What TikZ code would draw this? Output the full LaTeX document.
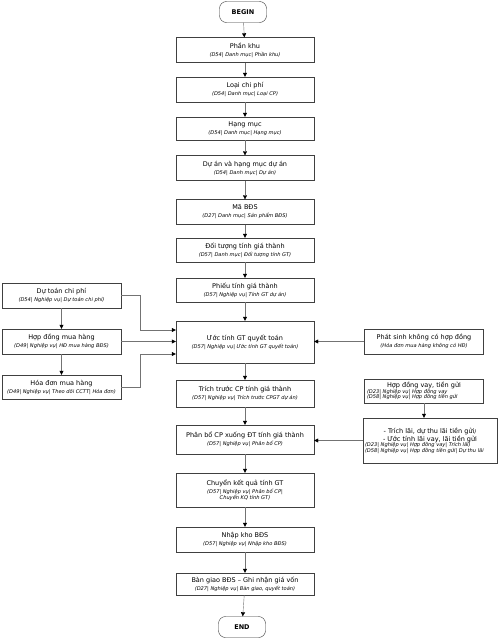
\documentclass[tikz,border=0pt]{standalone}
\usepackage{fontspec}
\setmainfont{DejaVu Sans}
\usetikzlibrary{arrows.meta}
\newcommand{\subt}[1]{{\fontsize{5.1}{6}\selectfont\itshape #1}}

\begin{document}
\begin{tikzpicture}[x=1pt,y=-1pt,
   box/.style={draw=black!75,fill=white,align=center,inner sep=1pt,
      minimum width=138pt,minimum height=25pt,font=\fontsize{6.5}{8}\selectfont},
   sidebox/.style={box,minimum width=119pt},
   term/.style={draw=black!80,rounded corners=7pt,minimum width=47pt,minimum height=21pt,
      font=\fontsize{6.5}{8}\selectfont\bfseries},
   arr/.style={draw=black!55,-{Triangle[color=black,length=4pt,width=4pt]}}]
   \useasboundingbox (0,0) rectangle (498,640);
   % main column
   \node[term] (begin) at (243,12) {BEGIN};
   \node[box] (pk) at (245,50) {Phần khu\\\subt{(D54| Danh mục| Phần khu)}};
   \node[box] (lcp) at (245,89.5) {Loại chi phí\\\subt{(D54| Danh mục| Loại CP)}};
   \node[box,minimum height=23pt] (hm) at (245,128.5) {Hạng mục\\\subt{(D54| Danh mục| Hạng mục)}};
   \node[box] (da) at (245,168) {Dự án và hạng mục dự án\\\subt{(D54| Danh mục| Dự án)}};
   \node[box] (mb) at (245,212) {Mã BĐS\\\subt{(D27| Danh mục| Sản phẩm BĐS)}};
   \node[box,minimum height=24pt] (dt) at (245,250) {Đối tượng tính giá thành\\\subt{(D57| Danh mục| Đối tượng tính GT)}};
   \node[box,minimum height=24pt] (ptg) at (245,290) {Phiếu tính giá thành\\\subt{(D57| Nghiệp vụ| Tính GT dự án)}};
   \node[box,minimum height=42pt] (ut) at (245,342) {Ước tính GT quyết toán\\\subt{(D57| Nghiệp vụ| Ước tính GT quyết toán)}};
   \node[box,minimum height=27pt] (tt) at (245,393.5) {Trích trước CP tính giá thành\\\subt{(D57| Nghiệp vụ| Trích trước CPGT dự án)}};
   \node[box,minimum height=29pt] (pb) at (245,439.5) {Phân bổ CP xuống ĐT tính giá thành\\\subt{(D57| Nghiệp vụ| Phân bổ CP)}};
   \node[box,minimum height=34pt] (ck) at (245,490) {Chuyển kết quả tính GT\\\subt{(D57| Nghiệp vụ| Phân bổ CP|}\\[-2pt]\subt{Chuyển KQ tính GT)}};
   \node[box] (nk) at (245,539.5) {Nhập kho BĐS\\\subt{(D57| Nghiệp vụ| Nhập kho BĐS)}};
   \node[box,minimum height=22pt] (bg) at (245,584) {Bàn giao BĐS – Ghi nhận giá vốn\\\subt{(D27| Nghiệp vụ| Bàn giao, quyết toán)}};
   \node[term] (end) at (242,627) {END};
   % left column
   \node[sidebox] (dtcp) at (61.5,295.5) {Dự toán chi phí\\\subt{(D54| Nghiệp vụ| Dự toán chi phí)}};
   \node[sidebox] (hdmh) at (61.5,341.5) {Hợp đồng mua hàng\\\subt{(D49| Nghiệp vụ| HĐ mua hàng BĐS)}};
   \node[sidebox,minimum height=24pt] (hodm) at (61.5,387) {Hóa đơn mua hàng\\\subt{(D49| Nghiệp vụ| Theo dõi CCTT| Hóa đơn)}};
   % right column
   \node[sidebox] (ps) at (424,341.5) {Phát sinh không có hợp đồng\\\subt{(Hóa đơn mua hàng không có HĐ)}};
   \node[sidebox,minimum height=24pt] (hdv) at (424,391) {Hợp đồng vay, tiền gửi\\[-1pt]
      \parbox{114pt}{\raggedright\subt{(D23| Nghiệp vụ| Hợp đồng vay}\\[-2.5pt]\subt{(D58| Nghiệp vụ| Hợp đồng tiền gửi}}};
   \node[sidebox,minimum width=134pt,minimum height=45pt] (tl) at (430,440.5) {- Trích lãi, dự thu lãi tiền gửi\subt{)}\\
      - Ước tính lãi vay, lãi tiền gửi\\[-1pt]
      \parbox{130pt}{\raggedright\subt{(D23| Nghiệp vụ| Hợp đồng vay| Trích lãi)}\\[-2.5pt]\subt{(D58| Nghiệp vụ| Hợp đồng tiền gửi| Dự thu lãi}}};
   % connectors
   \draw[arr] (begin) -- (pk);
   \draw[arr] (pk) -- (lcp);
   \draw[arr] (lcp) -- (hm);
   \draw[arr] (hm) -- (da);
   \draw[arr] (da) -- (mb);
   \draw[arr] (mb) -- (dt);
   \draw[arr] (dt) -- (ptg);
   \draw[arr] (ptg) -- (ut);
   \draw[arr] (ut) -- (tt);
   \draw[arr] (tt) -- (pb);
   \draw[arr] (pb) -- (ck);
   \draw[arr] (ck) -- (nk);
   \draw[arr] (nk) -- (bg);
   \draw[arr] (bg) -- (end);
   \draw[arr] (dtcp) -- (hdmh);
   \draw[arr] (hdmh) -- (hodm);
   \draw[arr] (dtcp.east) -- ++(19,0) |- ([yshift=12pt]ut.west);
   \draw[arr] (hdmh.east) -- (hdmh.east -| ut.west);
   \draw[arr] (hodm.east) -- ++(19,0) |- ([yshift=-12pt]ut.west);
   \draw[arr] (ps.west) -- (ps.west -| ut.east);
   \draw[arr] (hdv.south) -- (hdv.south |- tl.north);
   \draw[arr] (tl.west) -- (tl.west -| pb.east);
\end{tikzpicture}
\end{document}
